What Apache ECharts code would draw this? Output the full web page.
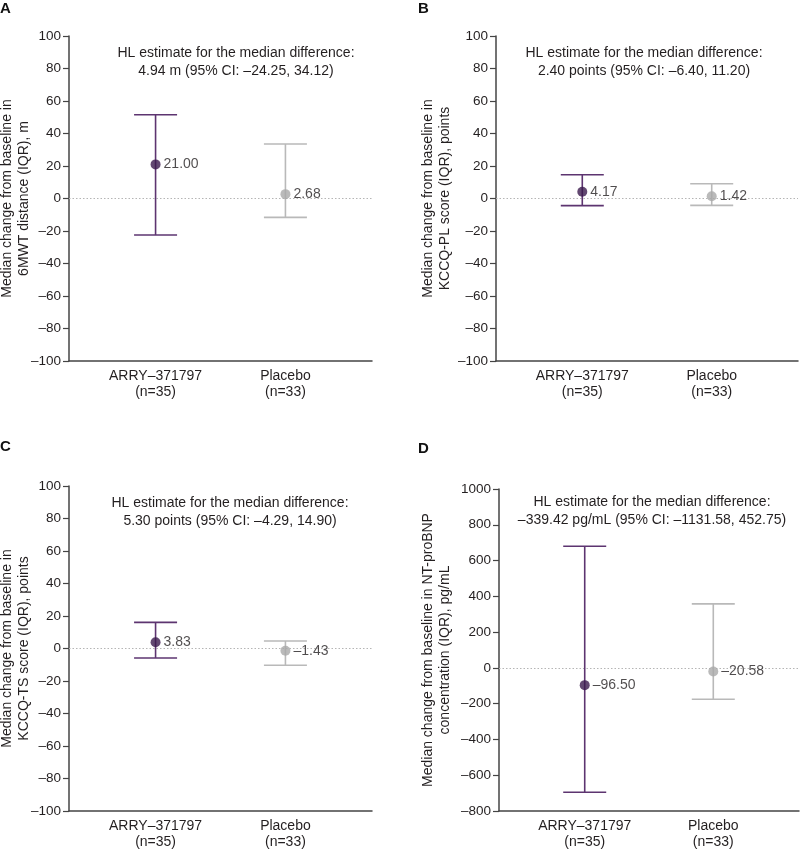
<!DOCTYPE html>
<html>
<head>
<meta charset="utf-8">
<script src="https://cdn.jsdelivr.net/npm/echarts@6/dist/echarts.min.js"></script>
<style>
html,body{margin:0;padding:0;background:#fff;}
#chart{width:800px;height:851px;}
</style>
</head>
<body>
<div id="chart"></div>
<script>
// ---- Data ----
var categories = ['ARRY\u2013371797\n(n=35)', 'Placebo\n(n=33)'];
var categoryPos = [2, 5];

var panelLetters = ['A', 'B', 'C', 'D'];
var yAxisNames = [
  'Median change from baseline in\n6MWT distance (IQR), m',
  'Median change from baseline in\nKCCQ-PL score (IQR), points',
  'Median change from baseline in\nKCCQ-TS score (IQR), points',
  'Median change from baseline in NT-proBNP\nconcentration (IQR), pg/mL'
];
var annotations = [
  'HL estimate for the median difference:\n4.94 m (95% CI: \u201324.25, 34.12)',
  'HL estimate for the median difference:\n2.40 points (95% CI: \u20136.40, 11.20)',
  'HL estimate for the median difference:\n5.30 points (95% CI: \u20134.29, 14.90)',
  'HL estimate for the median difference:\n\u2013339.42 pg/mL (95% CI: \u20131131.58, 452.75)'
];
// medians [ARRY, Placebo]
var medianA = [21.00, 2.68];
var medianB = [4.17, 1.42];
var medianC = [3.83, -1.43];
var medianD = [-96.50, -20.58];
// IQR lower (Q1) [ARRY, Placebo]
var q1A = [-22.5, -11.6];
var q1B = [-4.4, -4.2];
var q1C = [-5.8, -10.3];
var q1D = [-695, -175];
// IQR upper (Q3) [ARRY, Placebo]
var q3A = [51.5, 33.5];
var q3B = [14.6, 9.1];
var q3C = [16.1, 4.6];
var q3D = [680, 358];
// y-axis ranges
var yMin = [-100, -100, -100, -800];
var yMax = [100, 100, 100, 1000];
var yStep = [20, 20, 20, 200];

var medians = [medianA, medianB, medianC, medianD];
var q1s = [q1A, q1B, q1C, q1D];
var q3s = [q3A, q3B, q3C, q3D];

// ---- Styles ----
var FONT = '"Liberation Sans", Arial, Helvetica, sans-serif';
var TXT = '#231f20';
var dotColors = ['#3b1a4e', '#a9a9a9'];
var barColors = ['#5d3470', '#b9b9b9'];
var grids = [
  {left: 69, top: 36, width: 303, height: 325},
  {left: 496, top: 36, width: 302, height: 325},
  {left: 69, top: 486, width: 303, height: 325},
  {left: 499, top: 489, width: 300, height: 322}
];
var nameGaps = [36, 42, 36, 45];
var letterPos = [[0, 1], [418, 1], [0, 439], [418, 441]];
var annoPos = [[236, 44], [644, 44], [230, 494], [652, 493]];

function dash(v) {
  return v < 0 ? '\u2013' + Math.abs(v) : String(v);
}
function fmt2(v) {
  return v < 0 ? '\u2013' + Math.abs(v).toFixed(2) : v.toFixed(2);
}

var option = {
  backgroundColor: '#ffffff',
  animation: false,
  textStyle: {fontFamily: FONT},
  grid: grids.map(function (g) { return Object.assign({containLabel: false, outerBoundsMode: 'none'}, g); }),
  title: [],
  xAxis: [],
  yAxis: [],
  series: []
};

for (var p = 0; p < 4; p++) {
  option.title.push({
    text: panelLetters[p],
    left: letterPos[p][0], top: letterPos[p][1],
    padding: 0,
    textStyle: {fontFamily: FONT, fontSize: 15, fontWeight: 'bold', color: '#111'}
  });
  option.title.push({
    text: annotations[p],
    left: annoPos[p][0], top: annoPos[p][1],
    textAlign: 'center',
    padding: 0,
    textStyle: {fontFamily: FONT, fontSize: 14, fontWeight: 'normal', color: TXT, lineHeight: 18, align: 'center'}
  });
  option.xAxis.push({
    type: 'value', gridIndex: p, min: 0, max: 7, interval: 1,
    axisLine: {show: true, onZero: false, lineStyle: {color: '#444', width: 1.5}},
    axisTick: {show: false},
    splitLine: {show: false},
    axisLabel: {
      show: true, margin: 7, color: TXT, fontSize: 14, lineHeight: 16, fontFamily: FONT,
      formatter: function (v) {
        var i = categoryPos.indexOf(v);
        return i >= 0 ? categories[i] : '';
      }
    }
  });
  option.yAxis.push({
    type: 'value', gridIndex: p, min: yMin[p], max: yMax[p], interval: yStep[p],
    name: yAxisNames[p], nameLocation: 'middle', nameGap: nameGaps[p],
    nameMoveOverlap: false,
    nameTextStyle: {fontFamily: FONT, fontSize: 14, color: TXT, lineHeight: 17},
    axisLine: {show: true, lineStyle: {color: '#444', width: 1.5}},
    axisTick: {show: true, length: 6, lineStyle: {color: '#444', width: 1.2}},
    splitLine: {show: false},
    axisLabel: {margin: 8, color: TXT, fontSize: 13.5, fontFamily: FONT, formatter: dash}
  });

  var barData = [], dotData = [];
  for (var k = 0; k < 2; k++) {
    barData.push({value: [categoryPos[k], q1s[p][k], q3s[p][k]], itemStyle: {color: barColors[k]}});
    dotData.push({value: [categoryPos[k], medians[p][k]], itemStyle: {color: dotColors[k]}});
  }
  option.series.push({
    type: 'custom', xAxisIndex: p, yAxisIndex: p, data: barData, z: 3,
    renderItem: function (params, api) {
      var x = api.value(0);
      var lo = api.coord([x, api.value(1)]);
      var hi = api.coord([x, api.value(2)]);
      var col = api.visual('color');
      var hw = 21.5;
      var st = {stroke: col, lineWidth: 1.6};
      return {
        type: 'group',
        children: [
          {type: 'line', shape: {x1: lo[0], y1: lo[1], x2: hi[0], y2: hi[1]}, style: st},
          {type: 'line', shape: {x1: hi[0] - hw, y1: hi[1], x2: hi[0] + hw, y2: hi[1]}, style: st},
          {type: 'line', shape: {x1: lo[0] - hw, y1: lo[1], x2: lo[0] + hw, y2: lo[1]}, style: st}
        ]
      };
    }
  });
  option.series.push({
    type: 'scatter', xAxisIndex: p, yAxisIndex: p, data: dotData, z: 5,
    symbol: 'circle', symbolSize: 10,
    label: {
      show: true, position: 'right', distance: 3, color: TXT, fontSize: 14, fontFamily: FONT,
      formatter: function (d) { return fmt2(d.value[1]); }
    },
    markLine: {
      silent: true, symbol: 'none', z: 1,
      label: {show: false},
      lineStyle: {type: [1.5, 2], color: '#b5b5b5', width: 1},
      data: [{yAxis: 0}]
    }
  });
}

var chart = echarts.init(document.getElementById('chart'), null, {renderer: 'canvas'});
chart.setOption(option);
</script>
</body>
</html>
